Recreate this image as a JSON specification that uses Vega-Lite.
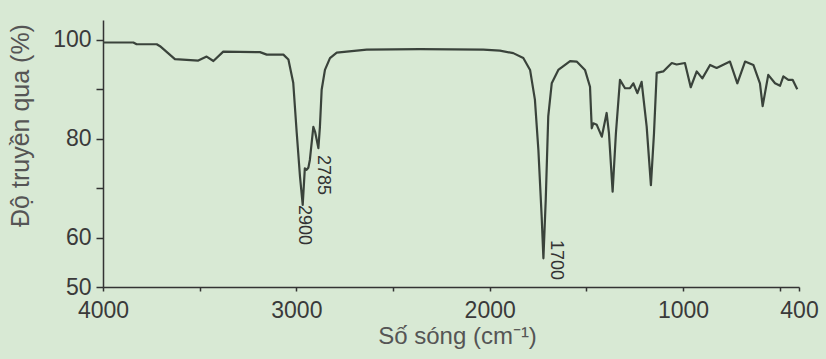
{
  "$schema": "https://vega.github.io/schema/vega-lite/v6.json",
  "autosize": "none",
  "width": 696,
  "height": 267,
  "padding": {"left": 103, "top": 20, "right": 27, "bottom": 72},
  "background": "#d8e9d4",
  "config": {
    "view": {"stroke": null},
    "axis": {"grid": false, "domainColor": "#333333", "tickColor": "#333333", "domainWidth": 1.5, "tickWidth": 1.5, "labelFont": "Liberation Sans", "titleFont": "Liberation Sans", "labelColor": "#3a3a3a", "titleColor": "#555555", "titleFontWeight": "normal"}
  },
  "datasets": {
    "spectrum": [
      {"w": 4000, "t": 99.45}, {"w": 3843, "t": 99.45}, {"w": 3826, "t": 99.1}, {"w": 3722, "t": 99.1},
      {"w": 3705, "t": 98.7}, {"w": 3628, "t": 96.1}, {"w": 3507, "t": 95.8}, {"w": 3464, "t": 96.6},
      {"w": 3429, "t": 95.7}, {"w": 3378, "t": 97.6}, {"w": 3188, "t": 97.5}, {"w": 3153, "t": 97.0},
      {"w": 3067, "t": 97.0}, {"w": 3041, "t": 96.0}, {"w": 3016, "t": 91.3}, {"w": 2998, "t": 81.2},
      {"w": 2981, "t": 72.3}, {"w": 2967, "t": 66.6}, {"w": 2956, "t": 74.0}, {"w": 2947, "t": 73.7},
      {"w": 2938, "t": 74.1}, {"w": 2930, "t": 75.7}, {"w": 2912, "t": 82.4}, {"w": 2903, "t": 81.4},
      {"w": 2886, "t": 78.1}, {"w": 2878, "t": 82.4}, {"w": 2869, "t": 89.9}, {"w": 2852, "t": 93.9},
      {"w": 2826, "t": 96.3}, {"w": 2791, "t": 97.4}, {"w": 2636, "t": 98.0}, {"w": 2360, "t": 98.1},
      {"w": 2033, "t": 98.0}, {"w": 1947, "t": 97.8}, {"w": 1878, "t": 97.3}, {"w": 1826, "t": 96.3},
      {"w": 1791, "t": 93.9}, {"w": 1766, "t": 87.9}, {"w": 1748, "t": 77.7}, {"w": 1731, "t": 64.2},
      {"w": 1722, "t": 55.8}, {"w": 1710, "t": 67.6}, {"w": 1697, "t": 84.5}, {"w": 1679, "t": 91.2},
      {"w": 1645, "t": 93.9}, {"w": 1584, "t": 95.7}, {"w": 1550, "t": 95.6}, {"w": 1507, "t": 93.9},
      {"w": 1481, "t": 90.5}, {"w": 1472, "t": 82.1}, {"w": 1464, "t": 83.1}, {"w": 1446, "t": 82.8},
      {"w": 1420, "t": 80.4}, {"w": 1395, "t": 85.2}, {"w": 1383, "t": 81.1}, {"w": 1364, "t": 69.3},
      {"w": 1347, "t": 81.1}, {"w": 1326, "t": 91.9}, {"w": 1300, "t": 90.2}, {"w": 1274, "t": 90.2},
      {"w": 1257, "t": 91.2}, {"w": 1236, "t": 89.2}, {"w": 1214, "t": 91.5}, {"w": 1188, "t": 82.5},
      {"w": 1166, "t": 70.6}, {"w": 1150, "t": 81.1}, {"w": 1136, "t": 93.3}, {"w": 1102, "t": 93.6},
      {"w": 1084, "t": 94.3}, {"w": 1058, "t": 95.3}, {"w": 1033, "t": 95.0}, {"w": 990, "t": 95.3},
      {"w": 960, "t": 90.4}, {"w": 929, "t": 93.6}, {"w": 900, "t": 92.2}, {"w": 860, "t": 94.9},
      {"w": 826, "t": 94.3}, {"w": 757, "t": 95.6}, {"w": 719, "t": 91.2}, {"w": 679, "t": 95.6},
      {"w": 636, "t": 94.9}, {"w": 602, "t": 91.2}, {"w": 588, "t": 86.6}, {"w": 559, "t": 92.9},
      {"w": 524, "t": 91.2}, {"w": 498, "t": 90.7}, {"w": 481, "t": 92.6}, {"w": 455, "t": 91.9},
      {"w": 433, "t": 91.9}, {"w": 409, "t": 90.0}
    ],
    "peaks": [
      {"w": 2960, "t": 66.6, "label": "2900"},
      {"w": 2862, "t": 76.7, "label": "2785"},
      {"w": 1657, "t": 59.5, "label": "1700"}
    ]
  },
  "layer": [
    {
      "data": {"name": "spectrum"},
      "mark": {"type": "line", "color": "#3a433b", "strokeWidth": 2.2, "strokeJoin": "round"},
      "encoding": {
        "x": {
          "field": "w", "type": "quantitative",
          "scale": {"domain": [400, 4000], "reverse": true, "nice": false, "zero": false},
          "axis": {
            "values": [4000, 3500, 3000, 2500, 2000, 1500, 1000, 500, 400],
            "labelExpr": "indexof([4000,3000,2000,1000,400], datum.value) >= 0 ? datum.label : ''",
            "format": "d",
            "labelFlush": false, "labelOverlap": false,
            "tickSize": 4, "labelPadding": 8, "labelFontSize": 23,
            "title": "Số sóng (cm⁻¹)", "titleFontSize": 24,
            "titleX": 354, "titleY": 49, "titleBaseline": "middle", "titleAlign": "center"
          }
        },
        "y": {
          "field": "t", "type": "quantitative",
          "scale": {"domain": [50, 104], "nice": false, "zero": false},
          "axis": {
            "values": [50, 60, 70, 80, 90, 100],
            "labelExpr": "(datum.value == 50 || datum.value == 60 || datum.value == 80 || datum.value == 100) ? datum.label : ''",
            "tickSize": 7, "labelPadding": 5, "labelFontSize": 23,
            "title": "Độ truyền qua (%)", "titleFontSize": 25,
            "titleAngle": -90, "titleX": -83, "titleY": 105, "titleBaseline": "middle", "titleAlign": "center"
          }
        }
      }
    },
    {
      "data": {"name": "peaks"},
      "mark": {"type": "text", "angle": 90, "align": "left", "baseline": "middle", "fontSize": 18, "font": "Liberation Sans", "color": "#333333"},
      "encoding": {
        "x": {"field": "w", "type": "quantitative"},
        "y": {"field": "t", "type": "quantitative"},
        "text": {"field": "label"}
      }
    }
  ]
}
